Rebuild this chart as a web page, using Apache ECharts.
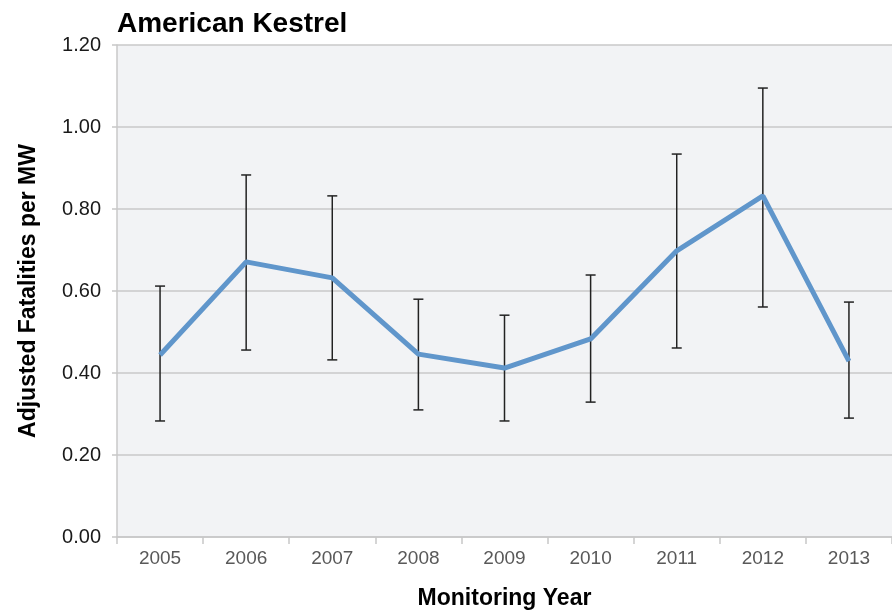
<!DOCTYPE html>
<html>
<head>
<meta charset="utf-8">
<script src="https://cdn.jsdelivr.net/npm/echarts@6/dist/echarts.min.js"></script>
<style>
  html, body { margin: 0; padding: 0; background: #fff; }
  #chart { width: 892px; height: 613px; }
</style>
</head>
<body>
<div id="chart"></div>
<script>
// data
const years = ["2005", "2006", "2007", "2008", "2009", "2010", "2011", "2012", "2013"];
const fatalities = [0.444, 0.671, 0.632, 0.446, 0.412, 0.483, 0.698, 0.832, 0.429];
const upper = [0.612, 0.883, 0.832, 0.580, 0.541, 0.639, 0.934, 1.095, 0.573];
const lower = [0.283, 0.456, 0.432, 0.310, 0.283, 0.329, 0.461, 0.561, 0.290];

const font = "'Liberation Sans', Arial, sans-serif";

const errData = years.map((y, i) => [i, lower[i], upper[i]]);

const chart = echarts.init(document.getElementById("chart"));
chart.setOption({
  animation: false,
  title: {
    text: "American Kestrel",
    left: 117,
    top: 10,
    padding: 0,
    textStyle: { fontFamily: font, fontSize: 28, fontWeight: "bold", color: "#000" }
  },
  grid: {
    left: 117, right: 0, top: 45, bottom: 76,
    outerBoundsMode: "none",
    backgroundColor: "#f2f3f5", show: true, borderWidth: 0
  },
  xAxis: {
    type: "category",
    data: years,
    boundaryGap: true,
    name: "Monitoring Year",
    nameLocation: "middle",
    nameGap: 50,
    nameTextStyle: { fontFamily: font, fontSize: 23, fontWeight: "bold", color: "#000" },
    axisLine: { lineStyle: { color: "#c8c8c8", width: 1.5 } },
    axisTick: { show: true, alignWithLabel: false, length: 7, lineStyle: { color: "#c8c8c8", width: 1.5 } },
    axisLabel: { fontFamily: font, fontSize: 19, color: "#595959", margin: 12 }
  },
  yAxis: {
    type: "value",
    min: 0,
    max: 1.2,
    interval: 0.2,
    name: "Adjusted Fatalities per MW",
    nameLocation: "middle",
    nameGap: 77,
    nameTextStyle: { fontFamily: font, fontSize: 23, fontWeight: "bold", color: "#000" },
    axisLine: { show: true, lineStyle: { color: "#c8c8c8", width: 1.5 } },
    axisTick: { show: true, length: 5, lineStyle: { color: "#c8c8c8", width: 1.5 } },
    axisLabel: { fontFamily: font, fontSize: 20, color: "#1a1a1a", margin: 16, formatter: v => v.toFixed(2) },
    splitLine: { lineStyle: { color: "#c8c8c8", width: 1.5 } }
  },
  series: [
    {
      type: "custom",
      z: 1,
      data: errData,
      renderItem: function (params, api) {
        const x = api.value(0);
        const lo = api.coord([x, api.value(1)]);
        const hi = api.coord([x, api.value(2)]);
        const cap = 5;
        const style = { stroke: "#222", lineWidth: 1.5 };
        return {
          type: "group",
          children: [
            { type: "line", shape: { x1: hi[0], y1: hi[1], x2: lo[0], y2: lo[1] }, style: style },
            { type: "line", shape: { x1: hi[0] - cap, y1: hi[1], x2: hi[0] + cap, y2: hi[1] }, style: style },
            { type: "line", shape: { x1: lo[0] - cap, y1: lo[1], x2: lo[0] + cap, y2: lo[1] }, style: style }
          ]
        };
      }
    },
    {
      type: "line",
      z: 3,
      data: fatalities,
      symbol: "none",
      lineStyle: { color: "#6096cb", width: 5 }
    }
  ]
});
</script>
</body>
</html>
